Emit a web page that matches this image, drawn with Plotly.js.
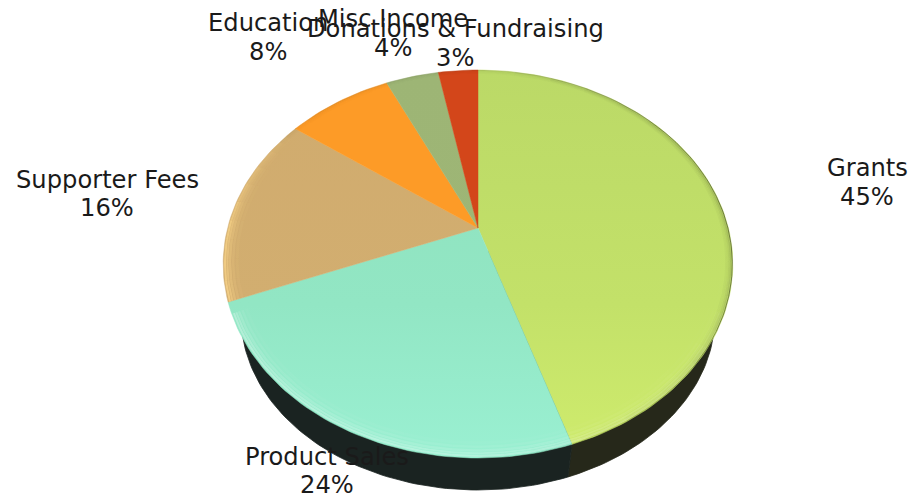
<!DOCTYPE html>
<html><head><meta charset="utf-8">
<script src="https://cdn.plot.ly/plotly-3.0.1.min.js"></script>
<style>html,body{margin:0;padding:0;background:#fff}#c{width:910px;height:497px}</style></head>
<body><div id="c"></div>
<script>
// Data
const categories = ["Grants","Product Sales","Supporter Fees","Education","Misc Income","Donations & Fundraising"];
const shares = [45,24,16,8,4,3];
const percentLabels = ["45%","24%","16%","8%","4%","3%"];
// Styles
const gradTop = ["#bbd967","#8ee1bc","#d0ab6e","#fd9b27","#9db575","#d3461a"];
const gradMid = ["#c3e169","#92e6c4","#d2ae70","#fd9b27","#9eb676","#d3461a"];
const gradBottom = ["#cfec6d","#9af0d2","#d4b072","#fd9b27","#9eb676","#d3461a"];
const labelX = [867,327,107,268,393,455];
const nameY = [168,457,180,23,19,29];
const pctY = [197,485,208,52,48,58];

// Projection of the tilted disc (pixel-valued axes)
const CX=478, CY=228, A=250.4, B=187.3, K=0.1857;
function rim(deg,r){r=r===undefined?1:r;const t=deg*Math.PI/180,d=-Math.cos(t)*r,w=1-K*d;
  return [CX+A*Math.sin(t)*r/w, CY+B*d/w];}
const BX=478,BY=316,BRX=237,BRY=174;
function lower(deg){const t=deg*Math.PI/180;return [BX+BRX*Math.sin(t),BY-BRY*Math.cos(t)];}
function arc(fn,a,b,extra){const xs=[],ys=[];const n=Math.max(2,Math.ceil(Math.abs(b-a)/1.5));
  for(let i=0;i<=n;i++){const p=fn(a+(b-a)*i/n,extra);xs.push(p[0]);ys.push(p[1]);}return [xs,ys];}
const total=shares.reduce((s,v)=>s+v,0);
const traces=[];
let c=0; const bounds=[0];
shares.forEach(v=>{c+=v;bounds.push(c/total*360);});

// Side wall: split where the Grants slice ends on the rim
const seamTop=rim(bounds[1]);
function wall(a,b,col,seamFirst){const l=arc(lower,a,b);
  const xs=l[0].slice(),ys=l[1].slice();
  if(seamFirst){xs.unshift(seamTop[0]);ys.unshift(seamTop[1]);}
  else{xs.push(seamTop[0]);ys.push(seamTop[1]);}
  xs.push(CX);ys.push(CY+20);
  traces.push({x:xs,y:ys,mode:'lines',fill:'toself',fillcolor:col,line:{width:0.8,color:col},hoverinfo:'skip',showlegend:false});}
wall(90,157.7,"#26281a",false);
wall(157.7,270,"#1a2321",true);

// Disc slices
shares.forEach((v,i)=>{const p=arc(rim,bounds[i],bounds[i+1]);
  traces.push({x:[CX].concat(p[0],[CX]),y:[CY].concat(p[1],[CY]),mode:'lines',fill:'toself',
    fillcolor:gradTop[i],
    fillgradient:{type:'vertical',colorscale:[[0,gradTop[i]],[0.6,gradMid[i]],[1,gradBottom[i]]],start:70,stop:460},
    line:{width:0.5,color:gradMid[i]},name:categories[i],hoverinfo:'skip',showlegend:false});});

// Rim bevel: soft concentric strokes whose strength follows the angle
function interp(tbl,a){for(let i=0;i<tbl.length-1;i++){if(a>=tbl[i][0]&&a<=tbl[i+1][0]){
  const f=(a-tbl[i][0])/(tbl[i+1][0]-tbl[i][0]);return tbl[i][1]+(tbl[i+1][1]-tbl[i][1])*f;}}return 0;}
const darkRings=[[0.998,1,.55],[0.992,1.5,.16],[0.986,1.5,.09],[0.980,1.5,.05],[0.974,1.5,.03]];
const darkTbl=[[0,.15],[30,.5],[60,.85],[90,1],[115,.9],[135,.55],[160,.15],[180,0],[295,0],[310,.2],[360,.15]];
const lightRings=[[0.992,2,.30],[0.983,2,.22],[0.973,2.5,.13],[0.960,2.5,.07],[0.945,3,.03]];
const lightTbl=[[105,0],[130,.5],[165,.8],[200,1],[248,1],[250,0],[360,0]];
const warmRings=[[0.993,2,.70],[0.984,2,.48],[0.974,2.5,.30],[0.962,2.5,.16],[0.947,3,.07]];
const warmTbl=[[248.5,1],[270,.9],[285,.45],[300,.12],[306,0]];
function bevel(rings,tbl,rgb,a0,a1,step){
  for(let a=a0;a<a1;a+=step){const s=interp(tbl,a+step/2);if(s<=0.01)continue;
    rings.forEach(rg=>{const p=arc(rim,a,Math.min(a+step,a1),rg[0]);
      traces.push({x:p[0],y:p[1],mode:'lines',line:{width:rg[1],color:`rgba(${rgb},${(rg[2]*s).toFixed(3)})`},hoverinfo:'skip',showlegend:false});});}}
bevel(lightRings,lightTbl,'255,255,255',105,bounds[2],10);
bevel(warmRings,warmTbl,'255,218,140',bounds[2],bounds[3],6);
bevel(darkRings,darkTbl,'35,35,25',0,360,10);

// Labels
const annotations=[];
categories.forEach((n,i)=>{
  annotations.push({x:labelX[i],y:nameY[i],xref:'x',yref:'y',text:n,showarrow:false,xanchor:'center',yanchor:'middle'});
  annotations.push({x:labelX[i],y:pctY[i],xref:'x',yref:'y',text:percentLabels[i],showarrow:false,xanchor:'center',yanchor:'middle'});
});
const layout={width:910,height:497,margin:{l:0,r:0,t:0,b:0},paper_bgcolor:'#fff',plot_bgcolor:'#fff',showlegend:false,
  font:{family:'"DejaVu Sans", sans-serif',size:24.2,color:'#1a1a1a'},
  xaxis:{range:[0,910],visible:false,fixedrange:true},
  yaxis:{range:[497,0],visible:false,fixedrange:true},
  annotations:annotations};
Plotly.newPlot('c',traces,layout,{displayModeBar:false,staticPlot:true});
</script></body></html>
